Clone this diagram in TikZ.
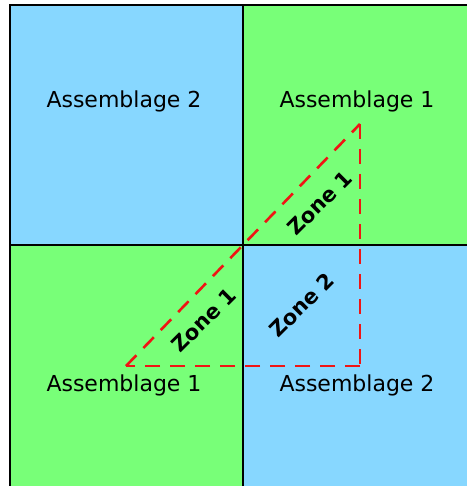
\documentclass[tikz,border=0pt]{standalone}
\usepackage{fontspec}
\setmainfont{DejaVu Sans}
\definecolor{cblue}{RGB}{135,215,255}
\definecolor{cgreen}{RGB}{120,255,120}
\definecolor{cred}{RGB}{240,20,20}
\begin{document}
\begin{tikzpicture}[x=1pt,y=-1pt,
  cell/.style={draw=black,line width=2.2pt},
  lab/.style={font=\fontsize{22}{26}\selectfont},
  zone/.style={font=\bfseries\fontsize{21}{24}\selectfont,rotate=45},
  zline/.style={draw=cred,line width=2.6pt,dash pattern=on 15pt off 10pt}]
\useasboundingbox (0,0) rectangle (466,486);
\fill[white] (0,0) rectangle (466,486);
\fill[cblue] (10,5) rectangle (243,245);
\fill[cgreen] (243,5) rectangle (470,245);
\fill[cgreen] (10,245) rectangle (243,490);
\fill[cblue] (243,245) rectangle (470,490);
\draw[cell] (10,490) -- (10,5) -- (470,5);
\draw[cell] (243,5) -- (243,490);
\draw[cell] (10,245) -- (470,245);
\node[lab] (a1) at (124,101) {Assemblage 2};
\node[lab] (a2) at (357,101) {Assemblage 1};
\node[lab] (a3) at (124,385) {Assemblage 1};
\node[lab] (a4) at (357,385) {Assemblage 2};
\coordinate (p1) at (126,366);
\coordinate (p2) at (360,124);
\coordinate (p3) at (360,366);
\draw[zline] (p1) -- (p2);
\draw[zline] (p2) -- (p3);
\draw[zline] (p3) -- (p1);
\node[zone] (z1) at (320,203) {Zone 1};
\node[zone] (z2) at (204,320) {Zone 1};
\node[zone] (z3) at (302,305) {Zone 2};
\end{tikzpicture}
\end{document}
